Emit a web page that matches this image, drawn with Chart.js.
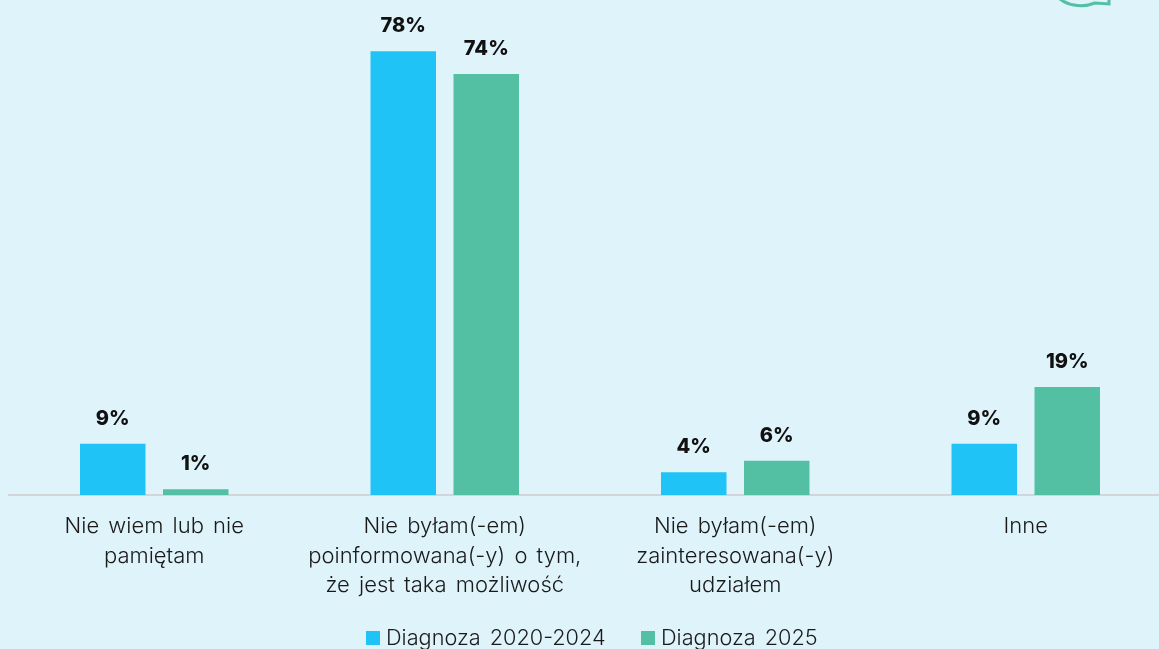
<!DOCTYPE html>
<html>
<head>
<meta charset="utf-8">
<script src="https://cdn.jsdelivr.net/npm/chart.js@4"></script>
<style>
	html, body { margin: 0; padding: 0; background: #dff3fb; overflow: hidden; }
	#wrap { position: relative; width: 1159px; height: 649px; overflow: hidden; }
	canvas { position: absolute; left: 0; top: 0; }
</style>
</head>
<body>
<div id="wrap"><canvas id="barChart" width="1171" height="649" style="width:1171px;height:649px"></canvas></div>
<script>
const categories = [
	["Nie wiem lub nie", "pamiętam"],
	["Nie byłam(-em)", "poinformowana(-y) o tym,", "że jest taka możliwość"],
	["Nie byłam(-em)", "zainteresowana(-y)", "udziałem"],
	"Inne"
];
const diagnoza2020 = [9, 78, 4, 9];
const diagnoza2025 = [1, 74, 6, 19];

const fontName = "Inter, sans-serif";

// percent labels, the legend row and the speech bubble corner at the top right
const overlay = {
	id: "overlay",
	beforeDraw(chart) {
		chart.ctx.wordSpacing = "3px";
	},
	afterDatasetsDraw(chart) {
		const ctx = chart.ctx;
		ctx.save();
		ctx.font = "800 20px " + fontName;
		ctx.fillStyle = "#111";
		ctx.textAlign = "center";
		ctx.textBaseline = "middle";
		chart.data.datasets.forEach((ds, i) => {
			chart.getDatasetMeta(i).data.forEach((bar, j) => {
				ctx.fillText(ds.data[j] + "%", bar.x, bar.y - 25);
			});
		});

		// legend: square sits close to its text
		const legendX = [366, 641];
		ctx.font = "300 21.7px " + fontName;
		ctx.textAlign = "left";
		chart.data.datasets.forEach((ds, i) => {
			ctx.fillStyle = ds.backgroundColor;
			ctx.fillRect(legendX[i], 631, 14, 14);
			ctx.fillStyle = "#1a1a1a";
			ctx.fillText(ds.label, legendX[i] + 20, 638);
		});

		ctx.strokeStyle = "#53bfa3";
		ctx.lineWidth = 3;
		ctx.beginPath();
		ctx.moveTo(1060, -1);
		ctx.bezierCurveTo(1070, 7, 1085, 7, 1095, 3);
		ctx.lineTo(1109, 4);
		ctx.lineTo(1109, -1);
		ctx.stroke();
		ctx.restore();
	}
};

new Chart(document.getElementById("barChart").getContext("2d"), {
	type: "bar",
	data: {
		labels: categories,
		datasets: [
			{ label: "Diagnoza 2020-2024", data: diagnoza2020, backgroundColor: "#1fc3f5" },
			{ label: "Diagnoza 2025", data: diagnoza2025, backgroundColor: "#53bfa3" }
		]
	},
	options: {
		responsive: false,
		animation: false,
		categoryPercentage: 0.5714,
		barPercentage: 0.789,
		layout: { padding: { left: 9, right: 0, top: 0, bottom: 0 } },
		scales: {
			y: { display: false, min: 0, max: 87 },
			x: {
				grid: { display: false, drawTicks: false },
				border: { color: "#d3d6d9", width: 2 },
				ticks: {
					color: "#1a1a1a",
					padding: 17,
					maxRotation: 0,
					autoSkip: false,
					font: { family: fontName, size: 22, weight: 300, lineHeight: 1.34 }
				},
				afterFit(scale) { scale.height = 154; }
			}
		},
		plugins: {
			tooltip: { enabled: false },
			legend: { display: false }
		}
	},
	plugins: [overlay]
});
</script>
</body>
</html>
